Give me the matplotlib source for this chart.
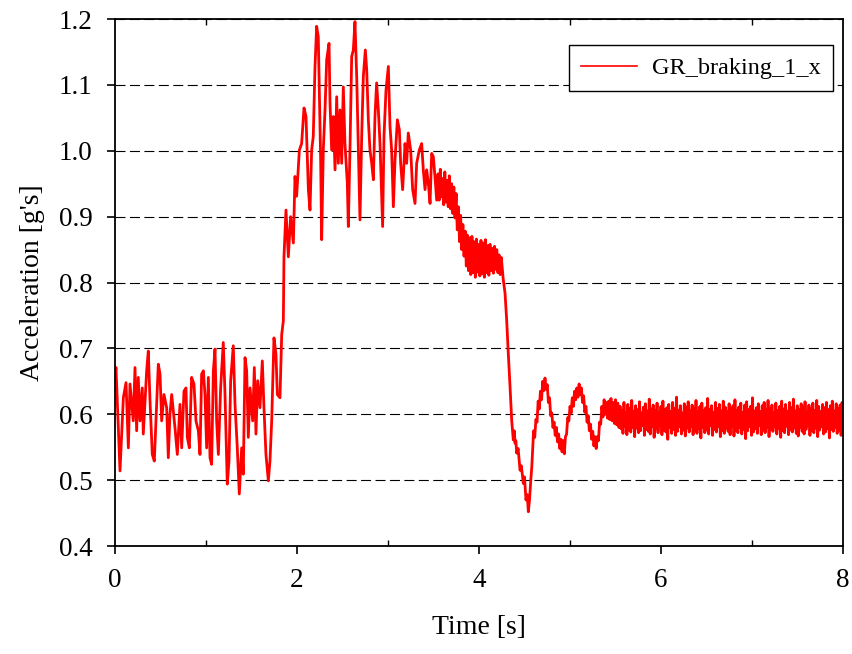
import numpy as np
import matplotlib
matplotlib.use("Agg")
import matplotlib.pyplot as plt
from matplotlib.ticker import MultipleLocator, FormatStrFormatter

# ======================
# data
# ======================
# before braking (0 - 1.85 s)
t_pre = [0.000, 0.011, 0.055, 0.092, 0.121, 0.147, 0.165, 0.201, 0.220, 0.238,
         0.256, 0.275, 0.300, 0.311, 0.348, 0.366, 0.385, 0.410, 0.432, 0.458,
         0.476, 0.495, 0.513, 0.538, 0.568, 0.586, 0.604, 0.623, 0.659, 0.685,
         0.714, 0.733, 0.758, 0.780, 0.795, 0.817, 0.842, 0.868, 0.890, 0.916,
         0.934, 0.952, 0.971, 0.989, 1.007, 1.026, 1.044, 1.062, 1.081, 1.099,
         1.117, 1.136, 1.161, 1.190, 1.209, 1.234, 1.253, 1.271, 1.300, 1.319,
         1.344, 1.366, 1.392, 1.410, 1.429, 1.447, 1.465, 1.484, 1.513, 1.531,
         1.549, 1.568, 1.593, 1.619, 1.637, 1.659, 1.685, 1.703, 1.722, 1.747,
         1.769, 1.784, 1.813, 1.832, 1.850]
a_pre = [0.658, 0.671, 0.514, 0.625, 0.648, 0.549, 0.646, 0.590, 0.671, 0.575,
         0.656, 0.590, 0.640, 0.570, 0.666, 0.696, 0.620, 0.539, 0.529, 0.615,
         0.676, 0.661, 0.590, 0.630, 0.610, 0.534, 0.600, 0.630, 0.580, 0.539,
         0.615, 0.549, 0.635, 0.640, 0.565, 0.549, 0.656, 0.646, 0.590, 0.575,
         0.539, 0.661, 0.666, 0.630, 0.549, 0.656, 0.534, 0.524, 0.666, 0.699,
         0.590, 0.539, 0.640, 0.709, 0.630, 0.494, 0.529, 0.651, 0.704, 0.615,
         0.549, 0.479, 0.549, 0.509, 0.686, 0.666, 0.565, 0.640, 0.590, 0.671,
         0.570, 0.651, 0.610, 0.681, 0.610, 0.539, 0.499, 0.529, 0.590, 0.716,
         0.691, 0.630, 0.625, 0.721, 0.742]

# braking peak (1.85 - 3.54 s)
t_brake = [1.857, 1.879, 1.905, 1.930, 1.960, 1.978, 1.996, 2.026, 2.051, 2.077,
           2.099, 2.125, 2.143, 2.161, 2.179, 2.198, 2.216, 2.234, 2.245, 2.260,
           2.271, 2.289, 2.308, 2.326, 2.352, 2.363, 2.381, 2.399, 2.418, 2.436,
           2.454, 2.473, 2.491, 2.509, 2.527, 2.553, 2.564, 2.582, 2.601, 2.619,
           2.637, 2.656, 2.674, 2.692, 2.711, 2.729, 2.751, 2.766, 2.784, 2.802,
           2.821, 2.839, 2.857, 2.875, 2.894, 2.912, 2.941, 2.956, 2.978, 3.004,
           3.022, 3.040, 3.059, 3.077, 3.103, 3.125, 3.139, 3.161, 3.187, 3.205,
           3.223, 3.249, 3.271, 3.297, 3.315, 3.344, 3.370, 3.388, 3.407, 3.425,
           3.443, 3.462, 3.480, 3.498, 3.516, 3.535]
a_brake = [0.839, 0.910, 0.839, 0.900, 0.860, 0.961, 0.931, 1.001, 1.011, 1.065,
           1.052, 0.941, 0.910, 1.001, 1.022, 1.128, 1.189, 1.173, 1.092, 0.986,
           0.865, 1.001, 1.062, 1.138, 1.163, 1.072, 1.001, 1.052, 0.971, 1.082,
           0.981, 1.062, 0.981, 1.097, 1.011, 0.951, 0.885, 1.001, 1.143, 1.153,
           1.196, 1.113, 1.001, 0.895, 1.022, 1.113, 1.153, 1.123, 1.047, 1.001,
           0.981, 0.956, 1.052, 1.103, 1.062, 1.011, 0.885, 1.022, 1.092, 1.128,
           1.037, 1.001, 0.915, 0.986, 1.047, 1.032, 0.981, 0.941, 1.011, 0.981,
           1.027, 1.001, 0.941, 0.920, 0.981, 1.001, 1.011, 0.971, 0.941, 0.971,
           0.951, 0.920, 0.996, 0.991, 0.961, 0.925]

# easing off (3.55 - 4.245 s), upper / lower edges of the band
a_ease = [0.965, 0.925, 0.972, 0.930, 0.958, 0.918, 0.968, 0.922, 0.955, 0.915,
          0.962, 0.912, 0.950, 0.905, 0.945, 0.898, 0.935, 0.880, 0.915, 0.862,
          0.902, 0.850, 0.888, 0.840, 0.878, 0.825, 0.872, 0.818, 0.868, 0.812,
          0.870, 0.815, 0.862, 0.808, 0.866, 0.816, 0.858, 0.810, 0.864, 0.813,
          0.860, 0.808, 0.865, 0.815, 0.856, 0.811, 0.858, 0.818, 0.852, 0.814,
          0.855, 0.820, 0.850, 0.815, 0.842, 0.812, 0.838]
t_ease = np.linspace(3.55, 4.245, len(a_ease))

# release drop and undershoot (4.27 - 4.58 s)
t_drop = [4.267, 4.286, 4.304, 4.322, 4.341, 4.359, 4.377, 4.387, 4.396, 4.405,
          4.414, 4.430, 4.451, 4.465, 4.487, 4.500, 4.516, 4.530, 4.542, 4.555,
          4.568, 4.580]
a_drop = [0.804, 0.784, 0.743, 0.692, 0.642, 0.591, 0.561, 0.575, 0.556, 0.560,
          0.541, 0.548, 0.515, 0.522, 0.495, 0.505, 0.470, 0.478, 0.452, 0.470,
          0.498, 0.520]

# rebound oscillation (4.60 - 5.54 s), upper / lower edges of the band
a_rebound = [0.575, 0.565, 0.592, 0.588, 0.620, 0.608, 0.635, 0.622, 0.650, 0.636,
             0.655, 0.638, 0.645, 0.618, 0.625, 0.598, 0.602, 0.580, 0.588, 0.568,
             0.580, 0.558, 0.570, 0.548, 0.562, 0.543, 0.560, 0.540, 0.566, 0.570,
             0.595, 0.590, 0.612, 0.602, 0.625, 0.612, 0.635, 0.622, 0.640, 0.626,
             0.646, 0.630, 0.640, 0.618, 0.628, 0.603, 0.612, 0.588, 0.598, 0.575,
             0.585, 0.562, 0.574, 0.552, 0.566, 0.548, 0.566, 0.560, 0.588, 0.585,
             0.612, 0.596, 0.622, 0.600, 0.618, 0.594, 0.620, 0.592, 0.624, 0.590,
             0.618, 0.586, 0.622, 0.584, 0.617, 0.580]
t_rebound = np.linspace(4.60, 5.5375, len(a_rebound))

# steady state (5.55 - 8 s), upper / lower edges of the band
a_steady = [0.612, 0.578, 0.606, 0.571, 0.618, 0.582, 0.603, 0.569, 0.615, 0.576,
            0.609, 0.573, 0.621, 0.580, 0.604, 0.566, 0.613, 0.579, 0.607, 0.572,
            0.619, 0.575, 0.602, 0.583, 0.611, 0.568, 0.616, 0.577, 0.605, 0.574,
            0.623, 0.570, 0.608, 0.581, 0.614, 0.565, 0.606, 0.578, 0.617, 0.572,
            0.603, 0.584, 0.612, 0.569, 0.620, 0.576, 0.607, 0.573, 0.610, 0.562,
            0.615, 0.580, 0.604, 0.571, 0.618, 0.577, 0.609, 0.568, 0.626, 0.574,
            0.606, 0.581, 0.613, 0.570, 0.602, 0.576, 0.616, 0.567, 0.611, 0.579,
            0.619, 0.573, 0.605, 0.582, 0.614, 0.569, 0.608, 0.575, 0.621, 0.571,
            0.604, 0.578, 0.612, 0.564, 0.617, 0.580, 0.606, 0.572, 0.610, 0.576,
            0.624, 0.570, 0.607, 0.583, 0.613, 0.568, 0.603, 0.577, 0.618, 0.573,
            0.609, 0.581, 0.615, 0.566, 0.605, 0.575, 0.620, 0.571, 0.611, 0.579,
            0.604, 0.574, 0.616, 0.569, 0.608, 0.582, 0.613, 0.567, 0.622, 0.576,
            0.606, 0.572, 0.611, 0.580, 0.617, 0.570, 0.603, 0.577, 0.614, 0.563,
            0.619, 0.575, 0.607, 0.581, 0.612, 0.568, 0.625, 0.573, 0.605, 0.578,
            0.610, 0.571, 0.616, 0.583, 0.604, 0.569, 0.613, 0.576, 0.618, 0.572,
            0.607, 0.580, 0.621, 0.566, 0.609, 0.577, 0.614, 0.574, 0.603, 0.581,
            0.617, 0.570, 0.606, 0.578, 0.612, 0.565, 0.620, 0.575, 0.608, 0.572,
            0.615, 0.582, 0.604, 0.569, 0.618, 0.576, 0.610, 0.573, 0.623, 0.579,
            0.605, 0.571, 0.613, 0.567, 0.607, 0.580, 0.616, 0.574, 0.611, 0.570,
            0.619, 0.577, 0.603, 0.583, 0.614, 0.568, 0.609, 0.575, 0.617, 0.572,
            0.606, 0.579, 0.621, 0.566, 0.612, 0.576, 0.604, 0.581, 0.615, 0.570,
            0.610, 0.573, 0.618, 0.578, 0.607, 0.564, 0.613, 0.577, 0.620, 0.574,
            0.605, 0.580, 0.616, 0.571, 0.609, 0.576, 0.614, 0.568, 0.618, 0.575]
t_steady = np.linspace(5.55, 8.0, len(a_steady))

t = np.concatenate([t_pre, t_brake, t_ease, t_drop, t_rebound, t_steady])
acc = np.concatenate([a_pre, a_brake, a_ease, a_drop, a_rebound, a_steady])

# ======================
# plot
# ======================
plt.rcParams["font.family"] = ["Liberation Serif", "DejaVu Serif"]

fig = plt.figure(figsize=(8.53, 6.54), dpi=100)
ax = fig.add_axes([0.1348, 0.1651, 0.8535, 0.8058])

ax.plot(t, acc, color="#ff0000", lw=2.0, label="GR_braking_1_x")

ax.set_xlim(0, 8)
ax.set_ylim(0.4, 1.2)
ax.xaxis.set_major_locator(MultipleLocator(2))
ax.xaxis.set_minor_locator(MultipleLocator(1))
ax.yaxis.set_major_locator(MultipleLocator(0.1))
ax.yaxis.set_major_formatter(FormatStrFormatter("%.1f"))

ax.tick_params(axis="x", which="major", direction="out", length=6,
               width=1.2, labelsize=19.5, pad=10)
ax.tick_params(axis="x", which="minor", direction="in", length=4,
               width=1.0, top=True, bottom=True)
ax.tick_params(axis="y", which="major", direction="out", length=6,
               width=1.2, labelsize=19.5, pad=10)

for s in ax.spines.values():
    s.set_linewidth(1.3)

ax.grid(axis="y", color="black", lw=0.8, ls=(0, (9, 4)))

ax.set_xlabel("Time [s]", fontsize=20, labelpad=16)
ax.set_ylabel("Acceleration [g's]", fontsize=20, labelpad=10)

leg = ax.legend(loc="upper right", bbox_to_anchor=(0.986, 0.951),
                borderaxespad=0, fontsize=17.5, fancybox=False,
                edgecolor="black", framealpha=1, handlelength=2.3,
                handletextpad=0.6, borderpad=0.5)
leg.get_frame().set_linewidth(1.0)
for h in leg.get_lines():
    h.set_linewidth(1.2)

plt.savefig("out.png", dpi=100)
